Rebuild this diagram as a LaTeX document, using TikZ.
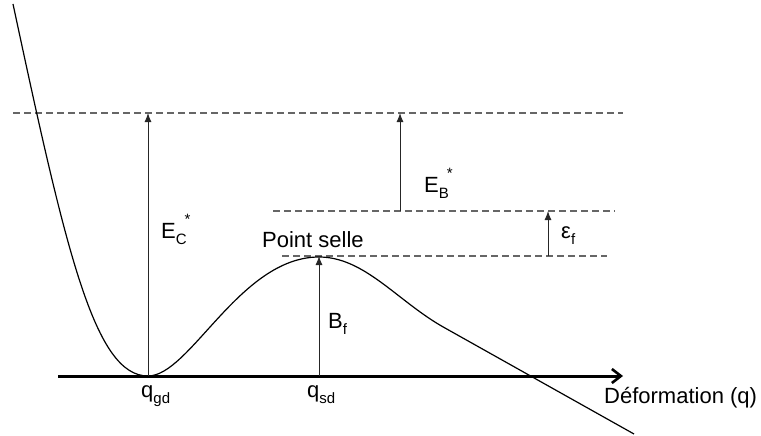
\documentclass[tikz,border=0pt]{standalone}
\usepackage{fontspec}
\setmainfont{Liberation Sans}
\usetikzlibrary{arrows.meta}
\newcommand\mysub[1]{\raisebox{-0.3em}{\fontsize{15}{15}\selectfont #1}}
\newcommand\mystar{\raisebox{0.6em}{\fontsize{15}{15}\selectfont *}}
\begin{document}
\begin{tikzpicture}[x=1pt,y=-1pt,
  every node/.style={inner sep=0pt, font=\fontsize{22}{26}\selectfont},
  lbl/.style={anchor=base west},
  level/.style={dash pattern=on 7pt off 4pt, line width=1.3pt, black!60},
  vec/.style={-{Latex[length=9pt,width=7pt]}, line width=1pt, black!85},
  curve/.style={line width=1.2pt, black},
  axis/.style={line width=3pt, -{Straight Barb[length=9pt,width=14pt,line width=2.6pt]}}]
\useasboundingbox (0,0) rectangle (761,436);
% coordinates
\coordinate (ax0) at (58,376);
\coordinate (ax1) at (623,376);
\coordinate (qgdp) at (148,376);
\coordinate (qsdp) at (319,376);
\coordinate (top0) at (13,113);
\coordinate (top1) at (623,113);
\coordinate (mid0) at (273,211);
\coordinate (mid1) at (615,211);
\coordinate (low0) at (282,256);
\coordinate (low1) at (607,256);
\coordinate (ectop) at (148,113);
\coordinate (saddle) at (319,256);
\coordinate (ebbot) at (400,211);
\coordinate (ebtop) at (400,113);
\coordinate (efbot) at (548,256);
\coordinate (eftop) at (548,211);
% levels
\draw[level] (top0) -- (top1);
\draw[level] (mid0) -- (mid1);
\draw[level] (low0) -- (low1);
% curve
\draw[curve] (13,4) .. controls (66.7,255) and (95,376) .. (148,376)
  .. controls (190,376) and (240,257) .. (319,257)
  .. controls (365,257) and (398,302) .. (445,328) -- (634,434);
% axis
\draw[axis] (ax0) -- (ax1);
% arrows
\draw[vec] (qgdp) -- (ectop);
\draw[vec] (qsdp) -- (saddle);
\draw[vec] (ebbot) -- (ebtop);
\draw[vec] (efbot) -- (eftop);
% labels
\node[lbl] (ecl) at (161,238) {E\mysub{C}\kern-2pt\mystar};
\node[lbl] (ebl) at (424,192) {E\mysub{B}\kern-2pt\mystar};
\node[lbl] (efl) at (561,238) {ε\mysub{f}};
\node[lbl] (bfl) at (328,328) {B\mysub{f}};
\node[lbl] (ps) at (262,247) {Point selle};
\node[lbl] (qgd) at (141,397) {q\mysub{gd}};
\node[lbl] (qsd) at (307,397) {q\mysub{sd}};
\node[lbl] (def) at (604,403) {Déformation (q)};
\end{tikzpicture}
\end{document}
